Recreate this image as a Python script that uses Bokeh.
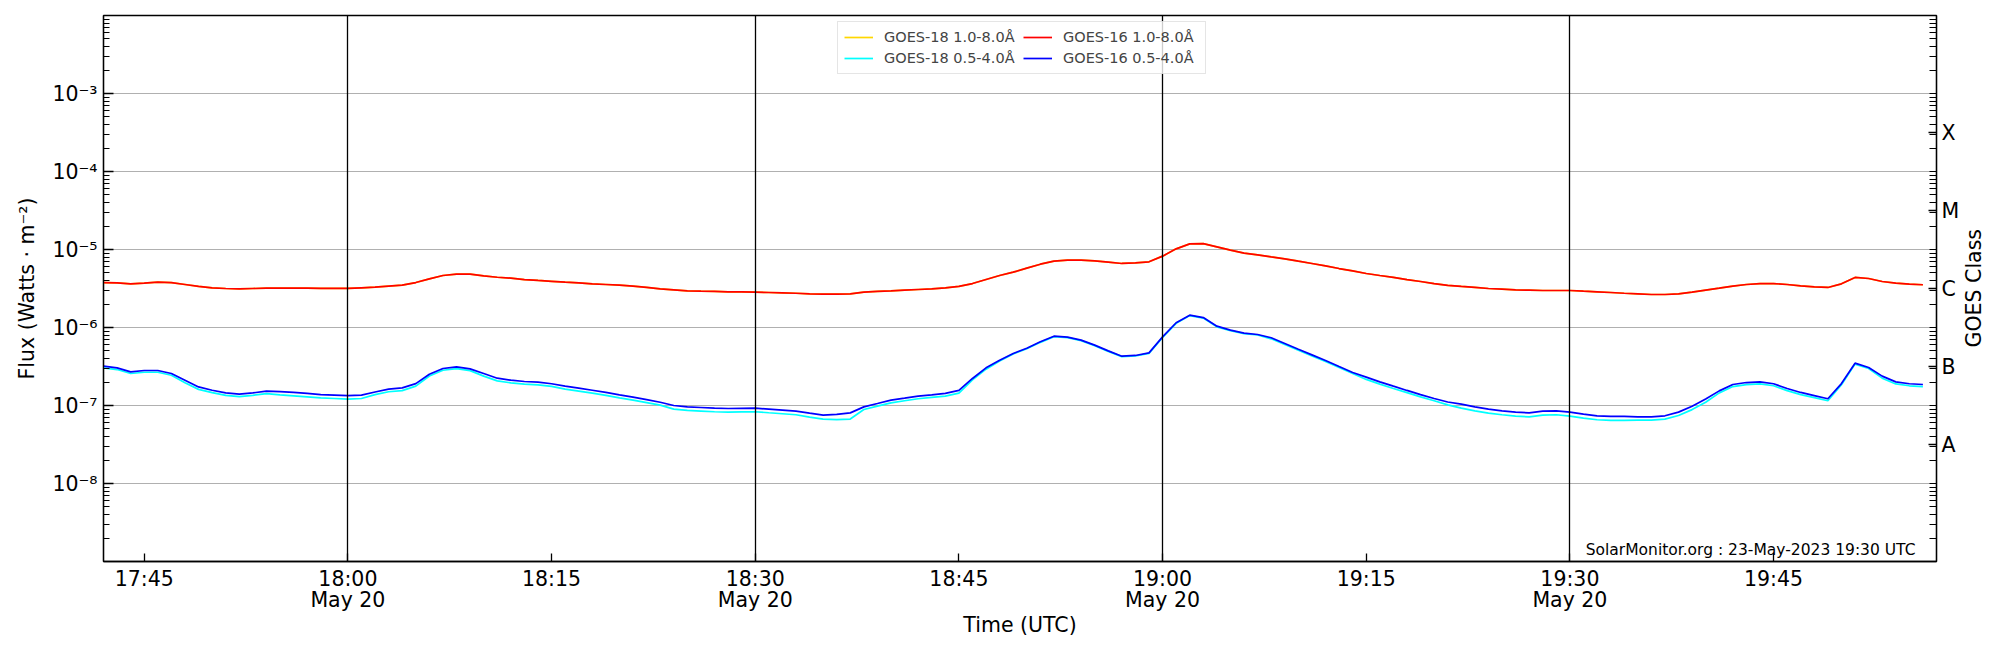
import math
from datetime import datetime, timedelta
from bokeh.plotting import figure
from bokeh.layouts import row
from bokeh.models import (Range1d, LogAxis, FixedTicker, CustomJSTickFormatter,
                          Legend, LegendItem, Label, Div)
from bokeh.embed import file_html
from bokeh.resources import INLINE

# ---------------- data ----------------
start_time = datetime(2023, 5, 20, 17, 42)
end_time = datetime(2023, 5, 20, 19, 57)
n_samples = 135  # one sample per minute, 17:42 .. 19:56
times = [start_time + timedelta(minutes=i) for i in range(n_samples)]

g16_long = [3.77e-6, 3.74e-6, 3.63e-6, 3.70e-6, 3.81e-6, 3.77e-6, 3.56e-6, 3.36e-6, 3.23e-6, 3.16e-6,
            3.13e-6, 3.16e-6, 3.19e-6, 3.21e-6, 3.19e-6, 3.19e-6, 3.18e-6, 3.17e-6, 3.17e-6, 3.23e-6,
            3.29e-6, 3.39e-6, 3.49e-6, 3.77e-6, 4.21e-6, 4.64e-6, 4.83e-6, 4.83e-6, 4.59e-6, 4.41e-6,
            4.29e-6, 4.12e-6, 4.01e-6, 3.91e-6, 3.81e-6, 3.74e-6, 3.63e-6, 3.56e-6, 3.49e-6, 3.39e-6,
            3.26e-6, 3.13e-6, 3.04e-6, 2.95e-6, 2.92e-6, 2.90e-6, 2.87e-6, 2.86e-6, 2.84e-6, 2.81e-6,
            2.78e-6, 2.75e-6, 2.70e-6, 2.68e-6, 2.68e-6, 2.70e-6, 2.84e-6, 2.90e-6, 2.95e-6, 3.01e-6,
            3.07e-6, 3.13e-6, 3.23e-6, 3.36e-6, 3.66e-6, 4.12e-6, 4.64e-6, 5.12e-6, 5.76e-6, 6.48e-6,
            7.08e-6, 7.30e-6, 7.30e-6, 7.16e-6, 6.89e-6, 6.62e-6, 6.75e-6, 6.95e-6, 8.22e-6, 1.02e-5,
            1.18e-5, 1.19e-5, 1.08e-5, 9.80e-6, 8.98e-6, 8.55e-6, 8.05e-6, 7.59e-6, 7.08e-6, 6.62e-6,
            6.18e-6, 5.70e-6, 5.32e-6, 4.92e-6, 4.64e-6, 4.38e-6, 4.12e-6, 3.89e-6, 3.66e-6, 3.47e-6,
            3.36e-6, 3.26e-6, 3.16e-6, 3.10e-6, 3.04e-6, 3.01e-6, 2.98e-6, 2.98e-6, 2.98e-6, 2.92e-6,
            2.87e-6, 2.81e-6, 2.75e-6, 2.70e-6, 2.65e-6, 2.65e-6, 2.70e-6, 2.84e-6, 3.01e-6, 3.19e-6,
            3.39e-6, 3.56e-6, 3.66e-6, 3.66e-6, 3.56e-6, 3.42e-6, 3.32e-6, 3.26e-6, 3.63e-6, 4.38e-6,
            4.25e-6, 3.89e-6, 3.70e-6, 3.60e-6, 3.53e-6]

g18_long = [3.77e-6, 3.74e-6, 3.63e-6, 3.70e-6, 3.81e-6, 3.77e-6, 3.56e-6, 3.36e-6, 3.23e-6, 3.16e-6,
            3.13e-6, 3.16e-6, 3.19e-6, 3.21e-6, 3.19e-6, 3.19e-6, 3.18e-6, 3.17e-6, 3.17e-6, 3.23e-6,
            3.29e-6, 3.39e-6, 3.49e-6, 3.77e-6, 4.21e-6, 4.64e-6, 4.83e-6, 4.83e-6, 4.59e-6, 4.41e-6,
            4.29e-6, 4.12e-6, 4.01e-6, 3.91e-6, 3.81e-6, 3.74e-6, 3.63e-6, 3.56e-6, 3.49e-6, 3.39e-6,
            3.26e-6, 3.13e-6, 3.04e-6, 2.95e-6, 2.92e-6, 2.90e-6, 2.87e-6, 2.86e-6, 2.84e-6, 2.81e-6,
            2.78e-6, 2.75e-6, 2.70e-6, 2.68e-6, 2.68e-6, 2.70e-6, 2.84e-6, 2.90e-6, 2.95e-6, 3.01e-6,
            3.07e-6, 3.13e-6, 3.23e-6, 3.36e-6, 3.66e-6, 4.12e-6, 4.64e-6, 5.12e-6, 5.76e-6, 6.48e-6,
            7.08e-6, 7.30e-6, 7.30e-6, 7.16e-6, 6.89e-6, 6.62e-6, 6.75e-6, 6.95e-6, 8.22e-6, 1.02e-5,
            1.18e-5, 1.19e-5, 1.08e-5, 9.80e-6, 8.98e-6, 8.55e-6, 8.05e-6, 7.59e-6, 7.08e-6, 6.62e-6,
            6.18e-6, 5.70e-6, 5.32e-6, 4.92e-6, 4.64e-6, 4.38e-6, 4.12e-6, 3.89e-6, 3.66e-6, 3.47e-6,
            3.36e-6, 3.26e-6, 3.16e-6, 3.10e-6, 3.04e-6, 3.01e-6, 2.98e-6, 2.98e-6, 2.98e-6, 2.92e-6,
            2.87e-6, 2.81e-6, 2.75e-6, 2.70e-6, 2.65e-6, 2.65e-6, 2.70e-6, 2.84e-6, 3.01e-6, 3.19e-6,
            3.39e-6, 3.56e-6, 3.66e-6, 3.66e-6, 3.56e-6, 3.42e-6, 3.32e-6, 3.26e-6, 3.63e-6, 4.38e-6,
            4.25e-6, 3.89e-6, 3.70e-6, 3.60e-6, 3.53e-6]

g16_short = [3.19e-7, 3.04e-7, 2.70e-7, 2.81e-7, 2.81e-7, 2.57e-7, 2.11e-7, 1.73e-7, 1.57e-7, 1.45e-7,
             1.40e-7, 1.45e-7, 1.53e-7, 1.51e-7, 1.47e-7, 1.43e-7, 1.38e-7, 1.36e-7, 1.34e-7, 1.36e-7,
             1.49e-7, 1.62e-7, 1.68e-7, 1.91e-7, 2.52e-7, 2.98e-7, 3.13e-7, 2.95e-7, 2.57e-7, 2.24e-7,
             2.11e-7, 2.03e-7, 1.99e-7, 1.90e-7, 1.77e-7, 1.67e-7, 1.57e-7, 1.47e-7, 1.37e-7, 1.28e-7,
             1.19e-7, 1.10e-7, 1.00e-7, 9.61e-8, 9.43e-8, 9.24e-8, 9.15e-8, 9.20e-8, 9.24e-8, 8.97e-8,
             8.71e-8, 8.46e-8, 7.97e-8, 7.52e-8, 7.68e-8, 8.05e-8, 9.61e-8, 1.06e-7, 1.17e-7, 1.24e-7,
             1.32e-7, 1.37e-7, 1.43e-7, 1.56e-7, 2.22e-7, 3.04e-7, 3.80e-7, 4.64e-7, 5.43e-7, 6.55e-7,
             7.74e-7, 7.52e-7, 6.89e-7, 5.94e-7, 5.02e-7, 4.29e-7, 4.38e-7, 4.73e-7, 7.59e-7, 1.15e-6,
             1.44e-6, 1.34e-6, 1.04e-6, 9.24e-7, 8.46e-7, 8.13e-7, 7.38e-7, 6.24e-7, 5.27e-7, 4.46e-7,
             3.78e-7, 3.16e-7, 2.65e-7, 2.31e-7, 2.01e-7, 1.77e-7, 1.56e-7, 1.38e-7, 1.23e-7, 1.11e-7,
             1.04e-7, 9.61e-8, 8.97e-8, 8.55e-8, 8.22e-8, 8.05e-8, 8.46e-8, 8.55e-8, 8.22e-8, 7.75e-8,
             7.38e-8, 7.24e-8, 7.24e-8, 7.16e-8, 7.16e-8, 7.38e-8, 8.22e-8, 9.79e-8, 1.21e-7, 1.54e-7,
             1.86e-7, 1.97e-7, 2.01e-7, 1.90e-7, 1.65e-7, 1.47e-7, 1.34e-7, 1.22e-7, 1.91e-7, 3.49e-7,
             3.07e-7, 2.38e-7, 2.01e-7, 1.90e-7, 1.86e-7]

g18_short = [3.03e-7, 2.89e-7, 2.57e-7, 2.67e-7, 2.67e-7, 2.44e-7,
             1.96e-7, 1.61e-7, 1.46e-7, 1.35e-7, 1.30e-7, 1.35e-7, 1.42e-7,
             1.37e-7, 1.33e-7, 1.29e-7, 1.25e-7, 1.23e-7, 1.21e-7, 1.23e-7,
             1.38e-7, 1.50e-7, 1.55e-7, 1.77e-7,
             2.39e-7, 2.83e-7, 2.97e-7, 2.80e-7,
             2.38e-7, 2.07e-7, 1.95e-7, 1.88e-7, 1.84e-7, 1.76e-7,
             1.62e-7, 1.53e-7, 1.44e-7, 1.35e-7, 1.25e-7, 1.17e-7, 1.09e-7, 1.01e-7,
             9.00e-8, 8.65e-8, 8.49e-8, 8.32e-8, 8.24e-8, 8.28e-8, 8.32e-8, 8.07e-8, 7.84e-8, 7.61e-8,
             7.10e-8, 6.70e-8, 6.60e-8, 6.70e-8, 8.89e-8, 9.80e-8,
             1.08e-7, 1.15e-7, 1.22e-7, 1.27e-7, 1.32e-7, 1.44e-7,
             2.13e-7, 2.92e-7, 3.73e-7,
             4.57e-7, 5.35e-7, 6.45e-7, 7.62e-7, 7.41e-7, 6.79e-7, 5.85e-7, 4.94e-7, 4.23e-7, 4.31e-7,
             4.66e-7, 7.48e-7, 1.13e-6, 1.42e-6, 1.32e-6, 1.02e-6, 9.10e-7, 8.33e-7, 8.01e-7,
             7.16e-7, 6.05e-7, 5.11e-7, 4.33e-7, 3.67e-7, 3.07e-7, 2.57e-7,
             2.16e-7, 1.88e-7, 1.65e-7, 1.46e-7, 1.29e-7, 1.15e-7, 1.02e-7,
             9.26e-8, 8.55e-8, 7.98e-8, 7.61e-8, 7.32e-8, 7.16e-8, 7.53e-8, 7.61e-8, 7.32e-8, 6.90e-8,
             6.57e-8, 6.44e-8, 6.44e-8,
             6.48e-8, 6.48e-8, 6.68e-8, 7.44e-8, 8.86e-8, 1.10e-7,
             1.45e-7, 1.75e-7, 1.85e-7, 1.89e-7, 1.79e-7, 1.55e-7, 1.38e-7, 1.26e-7, 1.15e-7,
             1.85e-7, 3.39e-7, 2.98e-7,
             2.24e-7, 1.89e-7, 1.79e-7, 1.75e-7]

series_labels = ["GOES-18 1.0-8.0Å", "GOES-18 0.5-4.0Å", "GOES-16 1.0-8.0Å", "GOES-16 0.5-4.0Å"]
series_colors = ["gold", "cyan", "red", "blue"]

x_tick_times = [datetime(2023, 5, 20, 17, 45), datetime(2023, 5, 20, 18, 0),
                datetime(2023, 5, 20, 18, 15), datetime(2023, 5, 20, 18, 30),
                datetime(2023, 5, 20, 18, 45), datetime(2023, 5, 20, 19, 0),
                datetime(2023, 5, 20, 19, 15), datetime(2023, 5, 20, 19, 30),
                datetime(2023, 5, 20, 19, 45)]
x_tick_labels = ["17:45", "18:00\nMay 20", "18:15", "18:30\nMay 20", "18:45",
                 "19:00\nMay 20", "19:15", "19:30\nMay 20", "19:45"]
vline_times = [datetime(2023, 5, 20, 18, 0), datetime(2023, 5, 20, 18, 30),
               datetime(2023, 5, 20, 19, 0), datetime(2023, 5, 20, 19, 30)]

y_tick_exps = [-8, -7, -6, -5, -4, -3]
y_tick_labels = ["10⁻⁸", "10⁻⁷", "10⁻⁶", "10⁻⁵", "10⁻⁴", "10⁻³"]
class_half_exps = [-15, -13, -11, -9, -7]   # 2*log10 of label position
class_labels = ["A", "B", "C", "M", "X"]

y_min, y_max = 1e-9, 1e-2
credit_text = "SolarMonitor.org : 23-May-2023 19:30 UTC"
right_label = "GOES Class"

# ---------------- helpers ----------------
EPOCH = datetime(1970, 1, 1)


def ms(t):
    return (t - EPOCH).total_seconds() * 1000.0


FONT = "DejaVu Sans"
FRAME_W, FRAME_H = 1833, 546
BORDER_L, BORDER_R, BORDER_T, BORDER_B = 103, 24, 15, 89

p = figure(x_axis_type="datetime", y_axis_type="log",
           x_range=Range1d(start_time, end_time), y_range=Range1d(y_min, y_max),
           frame_width=FRAME_W, frame_height=FRAME_H,
           min_border_left=BORDER_L, min_border_right=BORDER_R,
           min_border_top=BORDER_T, min_border_bottom=BORDER_B,
           output_backend="svg", toolbar_location=None,
           background_fill_color="white", border_fill_color="white")
p.outline_line_color = "black"
p.outline_line_width = 1.3

# lines
renderers = []
for ys, col in zip([g18_long, g18_short, g16_long, g16_short], series_colors):
    r = p.line(times, ys, line_color=col, line_width=1.7)
    renderers.append(r)

# grids
p.ygrid.ticker = FixedTicker(ticks=[10.0 ** e for e in y_tick_exps])
p.ygrid.grid_line_color = "#b0b0b0"
p.ygrid.grid_line_width = 1
p.xgrid.ticker = FixedTicker(ticks=[ms(t) for t in vline_times])
p.xgrid.grid_line_color = "black"
p.xgrid.grid_line_width = 1.3
p.xgrid.level = "overlay"

minor_vals = [k * 10.0 ** e for e in range(-9, -2) for k in range(2, 10)]

# left axis
ya = p.yaxis[0]
ya.ticker = FixedTicker(ticks=[10.0 ** e for e in y_tick_exps], minor_ticks=minor_vals)
ya.formatter = CustomJSTickFormatter(args=dict(exps=y_tick_exps, labs=y_tick_labels), code="""
const e = Math.round(Math.log10(tick));
const i = exps.indexOf(e);
return i >= 0 ? labs[i] : "";
""")
ya.axis_label = "Flux (Watts · m⁻²)"
ya.major_tick_in = 10
ya.major_tick_out = 0
ya.minor_tick_in = 6
ya.minor_tick_out = 0
ya.major_label_standoff = 6
ya.axis_label_standoff = 10

# bottom axis
xa = p.xaxis[0]
xa.ticker = FixedTicker(ticks=[ms(t) for t in x_tick_times], minor_ticks=[])
xa.formatter = CustomJSTickFormatter(args=dict(vals=[ms(t) for t in x_tick_times], labs=x_tick_labels), code="""
for (let i = 0; i < vals.length; i++) {
  if (Math.abs(vals[i] - tick) < 1000) { return labs[i]; }
}
return "";
""")
xa.axis_label = "Time (UTC)"
xa.major_tick_in = 8
xa.major_tick_out = 0
xa.minor_tick_in = 0
xa.minor_tick_out = 0
xa.major_label_standoff = 5
xa.axis_label_standoff = -2
xa.major_label_text_line_height = 0.9

# right axis (GOES class)
ra = LogAxis(ticker=FixedTicker(ticks=[10.0 ** (h / 2.0) for h in class_half_exps],
                                minor_ticks=[10.0 ** e for e in range(-9, -2)] + minor_vals),
             formatter=CustomJSTickFormatter(args=dict(exps=class_half_exps, labs=class_labels), code="""
const e = Math.round(2 * Math.log10(tick));
const i = exps.indexOf(e);
return i >= 0 ? labs[i] : "";
"""))
ra.major_tick_in = 8
ra.major_tick_out = 0
ra.minor_tick_in = 7
ra.minor_tick_out = 0
ra.major_label_standoff = 5
p.add_layout(ra, "right")

for ax in [ya, xa, ra]:
    ax.axis_line_color = "black"
    ax.axis_line_width = 1.3
    ax.major_tick_line_color = "black"
    ax.minor_tick_line_color = "black"
    ax.major_tick_line_width = 1.3
    ax.minor_tick_line_width = 1.2
    ax.major_label_text_font = FONT
    ax.major_label_text_font_size = "20.5px"
    ax.major_label_text_color = "black"
    ax.axis_label_text_font = FONT
    ax.axis_label_text_font_size = "20.5px"
    ax.axis_label_text_font_style = "normal"
    ax.axis_label_text_color = "black"

# legend
items = [LegendItem(label=lab, renderers=[r]) for lab, r in zip(series_labels, renderers)]
legend = Legend(items=items, location=(734, 487), orientation="vertical", nrows=2,
                label_text_font=FONT, label_text_font_size="14.5px",
                glyph_width=29, glyph_height=18, label_height=18, label_width=136,
                label_standoff=11, padding=6, spacing=3, margin=0,
                border_line_color="#cccccc", border_line_width=1,
                background_fill_color="white", background_fill_alpha=0.8)
p.add_layout(legend)

# credit text
p.add_layout(Label(x=end_time, y=y_min, x_offset=-21, y_offset=12, text=credit_text,
                   text_align="right", text_baseline="alphabetic",
                   text_font=FONT, text_font_size="15.5px", text_color="black"))

# right-hand title "GOES Class", reading bottom-to-top, beside the class labels
title_box_h = 2 * (BORDER_T + FRAME_H // 2)
right_title = Div(
    text=('<div style="height:%dpx;display:flex;align-items:center;justify-content:flex-start;">'
          '<span style="writing-mode:vertical-rl;transform:rotate(180deg);'
          'font-family:\'DejaVu Sans\';font-size:20.5px;line-height:24px;color:black;">%s</span></div>'
          % (title_box_h, right_label)),
    width=40, height=650, margin=0)

layout = row(p, right_title, spacing=0)

open("out.html", "w").write(file_html(layout, INLINE))
